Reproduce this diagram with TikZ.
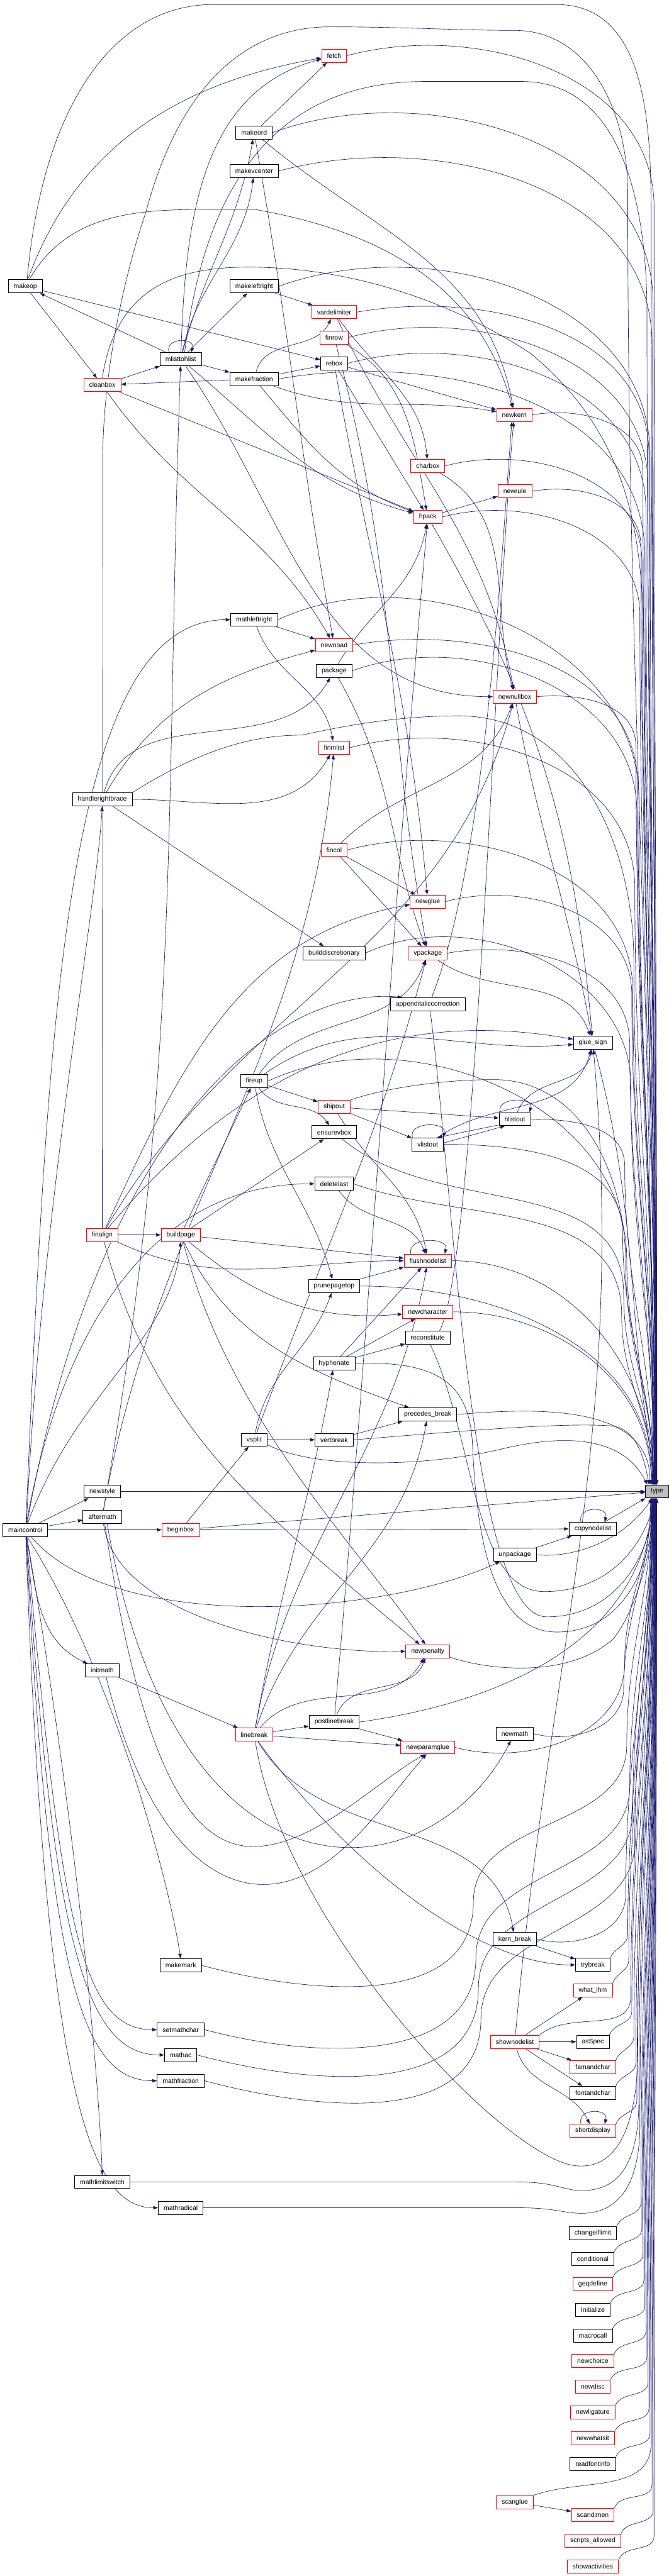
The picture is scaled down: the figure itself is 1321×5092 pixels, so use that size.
\documentclass[tikz,border=0pt]{standalone}
\usepackage{fontspec}
\setmainfont{Liberation Sans}
\usetikzlibrary{arrows.meta}
\definecolor{edgeblue}{RGB}{25,25,112}
\definecolor{typegray}{RGB}{191,191,191}
\pgfdeclarelayer{back}\pgfdeclarelayer{bg}
\pgfsetlayers{back,bg,main}
\newcommand\EA[5]{\draw[e] (#1) to[out=#5,in=90] (#2,#3) to[out=-90,in=90] (type.#4);}
\newcommand\EB[5]{\draw[e] (#1) to[out=#5,in=-90] (#2,#3) to[out=90,in=-90] (type.#4);}
\newcommand\EW[6]{\draw[e] (#1) to[out=-15,in=-90] (#2,#3) to[out=90,in=-90] (#4,#5) to[out=90,in=-90] (type.#6);}
\newcommand\loopit[4]{\draw[e] (#1.#2) to[out=105,in=75,looseness=#4] (#1.#3);}
\tikzset{
 nb/.style={draw=black, fill=white, line width=0.08pt, minimum height=2.08pt, inner xsep=0.853pt, inner ysep=0pt, font=\fontsize{1.04}{1.2}\selectfont},
 nr/.style={nb, draw=red},
 nt/.style={nb, fill=typegray},
 e/.style={draw=edgeblue, line width=0.064pt, -{Triangle[length=0.75pt,width=0.53pt]}},
}
\begin{document}
\begin{tikzpicture}[x=0.08pt,y=0.08pt]
\begin{pgfonlayer}{back}
\fill[white] (0,0) rectangle (1321,-5092);
\end{pgfonlayer}
\useasboundingbox (0,0) rectangle (1321,-5092);
% nodes
\node[nr] (fetch) at (660,-110) {fetch};
\node[nb] (makeord) at (502,-262) {makeord};
\node[nb] (makevcenter) at (502,-338) {makevcenter};
\node[nb] (makeop) at (50,-566) {makeop};
\node[nb] (makeleftright) at (502,-566) {makeleftright};
\node[nr] (vardelimiter) at (660,-617) {vardelimiter};
\node[nr] (finrow) at (660,-667) {finrow};
\node[nb] (mlisttohlist) at (357,-710) {mlisttohlist};
\node[nb] (rebox) at (660,-718) {rebox};
\node[nb] (makefraction) at (502,-749) {makefraction};
\node[nr] (cleanbox) at (202,-761) {cleanbox};
\node[nr] (newkern) at (1016,-820) {newkern};
\node[nr] (charbox) at (845,-921) {charbox};
\node[nr] (newrule) at (1017,-971) {newrule};
\node[nr] (hpack) at (845,-1022) {hpack};
\node[nb] (mathleftright) at (502,-1225) {mathleftright};
\node[nr] (newnoad) at (660,-1275) {newnoad};
\node[nb] (package) at (660,-1326) {package};
\node[nr] (newnullbox) at (1017,-1377) {newnullbox};
\node[nr] (finmlist) at (660,-1478) {finmlist};
\node[nb] (handlerightbrace) at (202,-1580) {handlerightbrace};
\node[nr] (fincol) at (660,-1680) {fincol};
\node[nr] (newglue) at (845,-1782) {newglue};
\node[nb] (builddiscretionary) at (660,-1884) {builddiscretionary};
\node[nr] (vpackage) at (845,-1884) {vpackage};
\node[nb] (appenditaliccorrection) at (845,-1985) {appenditaliccorrection};
\node[nb] (gluesign) at (1171,-2061) {glue\_sign};
\node[nb] (fireup) at (502,-2137) {fireup};
\node[nr] (shipout) at (660,-2188) {shipout};
\node[nb] (hlistout) at (1017,-2212) {hlistout};
\node[nb] (ensurevbox) at (660,-2238) {ensurevbox};
\node[nb] (vlistout) at (845,-2262) {vlistout};
\node[nb] (deletelast) at (660,-2340) {deletelast};
\node[nr] (finalign) at (202,-2441) {finalign};
\node[nr] (buildpage) at (357,-2441) {buildpage};
\node[nr] (flushnodelist) at (845,-2492) {flushnodelist};
\node[nb] (prunepagetop) at (660,-2542) {prunepagetop};
\node[nr] (newcharacter) at (845,-2593) {newcharacter};
\node[nb] (reconstitute) at (845,-2644) {reconstitute};
\node[nb] (hyphenate) at (660,-2695) {hyphenate};
\node[nb] (precedesbreak) at (845,-2796) {precedes\_break};
\node[nb] (vsplit) at (502,-2846) {vsplit};
\node[nb] (vertbreak) at (660,-2846) {vertbreak};
\node[nb] (newstyle) at (202,-2948) {newstyle};
\node[nt] (type) at (1298,-2948) {type};
\node[nb] (aftermath) at (202,-2998) {aftermath};
\node[nb] (maincontrol) at (50,-3024) {maincontrol};
\node[nr] (beginbox) at (357,-3024) {beginbox};
\node[nb] (copynodelist) at (1171,-3022) {copynodelist};
\node[nb] (unpackage) at (1017,-3073) {unpackage};
\node[nr] (newpenalty) at (845,-3264) {newpenalty};
\node[nb] (initmath) at (202,-3302) {initmath};
\node[nb] (postlinebreak) at (660,-3404) {postlinebreak};
\node[nr] (linebreak) at (502,-3429) {linebreak};
\node[nb] (newmath) at (1017,-3427) {newmath};
\node[nr] (newparamglue) at (845,-3454) {newparamglue};
\node[nb] (kernbreak) at (1017,-3833) {kern\_break};
\node[nb] (makemark) at (357,-3885) {makemark};
\node[nb] (trybreak) at (1171,-3884) {trybreak};
\node[nr] (whatlhm) at (1171,-3934) {what\_lhm};
\node[nb] (setmathchar) at (357,-4012) {setmathchar};
\node[nr] (shownodelist) at (1017,-4036) {shownodelist};
\node[nb] (asSpec) at (1171,-4036) {asSpec};
\node[nb] (mathac) at (357,-4062) {mathac};
\node[nr] (famandchar) at (1171,-4086) {famandchar};
\node[nb] (mathfraction) at (357,-4113) {mathfraction};
\node[nb] (fontandchar) at (1171,-4137) {fontandchar};
\node[nr] (shortdisplay) at (1171,-4212) {shortdisplay};
\node[nb] (mathlimitswitch) at (202,-4313) {mathlimitswitch};
\node[nb] (mathradical) at (357,-4364) {mathradical};
\node[nb] (changeiflimit) at (1171,-4414) {changeiflimit};
\node[nb] (conditional) at (1171,-4465) {conditional};
\node[nr] (geqdefine) at (1171,-4515) {geqdefine};
\node[nb] (Initialize) at (1171,-4566) {Initialize};
\node[nb] (macrocall) at (1171,-4617) {macrocall};
\node[nr] (newchoice) at (1171,-4667) {newchoice};
\node[nr] (newdisc) at (1171,-4718) {newdisc};
\node[nr] (newligature) at (1171,-4769) {newligature};
\node[nr] (newwhatsit) at (1171,-4820) {newwhatsit};
\node[nb] (readfontinfo) at (1171,-4870) {readfontinfo};
\node[nr] (scanglue) at (1017,-4946) {scanglue};
\node[nr] (scandimen) at (1171,-4971) {scandimen};
\node[nr] (scriptsallowed) at (1171,-5022) {scripts\_allowed};
\node[nr] (showactivities) at (1171,-5073) {showactivities};
\begin{pgfonlayer}{bg}
% ---------- edges between nodes ----------
\draw[e] (makeord) -- (fetch);
\draw[e] (makeop) to[out=70,in=190] (fetch);
\draw[e] (mlisttohlist) to[out=88,in=195] (fetch);
\draw[e] (mlisttohlist) to[out=75,in=-100] (makeord);
\draw[e] (mlisttohlist) to[out=78,in=-97] (makevcenter);
\draw[e] (mlisttohlist) -- (makeleftright);
\draw[e] (mlisttohlist) -- (makeop);
\draw[e] (mlisttohlist) -- (makefraction);
\loopit{mlisttohlist}{150}{33}{1.8}
\draw[e] (cleanbox) -- (mlisttohlist);
\draw[e] (makeop) -- (cleanbox);
\draw[e] (makefraction) -- (cleanbox);
\draw[e] (makeleftright) -- (vardelimiter);
\draw[e] (makefraction) to[out=75,in=-115] (vardelimiter);
\draw[e] (makeop) -- (rebox);
\draw[e] (makefraction) -- (rebox);
\draw[e] (rebox) -- (newkern);
\draw[e] (makefraction) to[out=-20,in=170] (newkern);
\draw[e] (makeord) to[out=-40,in=100] (newkern);
\draw[e] (makeop.60) to[out=60,in=180] (400,-414) -- (504,-414) to[out=-10,in=105] (newkern);
\draw[e] (vardelimiter) to[out=-55,in=95] (charbox);
\draw[e] (vardelimiter) to[out=-65,in=100] (newnullbox);
\draw[e] (charbox) to[out=-30,in=105] (newnullbox);
\draw[e] (hpack) -- (newrule);
\draw[e] (rebox) -- (hpack);
\draw[e] (cleanbox) -- (hpack);
\draw[e] (mlisttohlist) to[out=-40,in=165] (hpack);
\draw[e] (makefraction) to[out=-50,in=160] (hpack);
\draw[e] (finrow) to[out=-30,in=100] (hpack);
\draw[e] (package) to[out=60,in=-100] (hpack);
\draw[e] (postlinebreak) to[out=85,in=-95] (hpack);
\draw[e] (mathleftright) -- (newnoad);
\draw[e] (makeord) to[out=-80,in=100] (newnoad);
\draw[e] (cleanbox) to[out=-55,in=120] (newnoad);
\draw[e] (handlerightbrace) to[out=60,in=195] (newnoad);
\draw[e] (handlerightbrace) to[out=75,in=-120] (package);
\draw[e] (handlerightbrace) to[out=0,in=-120] (finmlist);
\draw[e] (handlerightbrace) -- (builddiscretionary);
\draw[e] (mathleftright) to[out=-70,in=100] (finmlist);
\draw[e] (aftermath) to[out=80,in=-95] (finmlist);
\draw[e] (mlisttohlist) to[out=-55,in=180] (newnullbox);
\draw[e] (fincol) to[out=45,in=-110] (newnullbox);
\draw[e] (finalign) to[out=60,in=-105] (newnullbox);
\draw[e] (fincol) -- (newglue);
\draw[e] (rebox) to[out=-80,in=95] (newglue);
\draw[e] (finalign) to[out=65,in=190] (newglue);
\draw[e] (fincol) -- (vpackage);
\draw[e] (finrow) to[out=-75,in=100] (vpackage);
\draw[e] (package) to[out=-60,in=110] (vpackage);
\draw[e] (fireup) to[out=55,in=-110] (vpackage);
\draw[e] (vsplit) to[out=70,in=-105] (vpackage);
\draw[e] (newnullbox) to[out=-80,in=100] (gluesign);
\draw[e] (hpack) to[out=-60,in=95] (gluesign);
\draw[e] (vpackage) to[out=-35,in=110] (gluesign);
\draw[e] (finalign) to[out=50,in=170] (gluesign);
\draw[e] (fireup) to[out=35,in=185] (gluesign);
\draw[e] (hlistout) to[out=70,in=-100] (gluesign);
\draw[e] (vlistout) to[out=35,in=-105] (gluesign);
\draw[e] (shownodelist) to[out=85,in=-85] (gluesign);
\draw[e] (fireup) -- (shipout);
\draw[e] (fireup) to[out=-55,in=125] (ensurevbox);
\draw[e] (fireup) to[out=-80,in=105] (prunepagetop);
\draw[e] (buildpage) -- (fireup);
\draw[e] (buildpage) -- (ensurevbox);
\draw[e] (buildpage) -- (flushnodelist);
\draw[e] (buildpage) to[out=-65,in=160] (precedesbreak);
\draw[e] (buildpage) to[out=-40,in=185] (newcharacter);
\draw[e] (finalign) -- (buildpage);
\draw[e] (finalign) to[out=-25,in=180] (flushnodelist);
\draw[e] (maincontrol) to[out=80,in=180] (deletelast);
\draw[e] (deletelast) to[out=-55,in=110] (flushnodelist);
\draw[e] (shipout) -- (hlistout);
\draw[e] (shipout) -- (vlistout);
\draw[e] (shipout) to[out=-60,in=100] (flushnodelist);
\draw[e] (hlistout.200) -- (vlistout.35);
\draw[e] (vlistout.5) -- (hlistout.215);
\loopit{hlistout}{155}{25}{1.4}
\loopit{vlistout}{156}{24}{1.4}
\loopit{flushnodelist}{158}{22}{1.35}
\draw[e] (prunepagetop) -- (flushnodelist);
\draw[e] (hyphenate) -- (flushnodelist);
\draw[e] (linebreak) to[out=80,in=-100] (flushnodelist);
\draw[e] (hyphenate) -- (reconstitute);
\draw[e] (hyphenate) -- (newcharacter);
\draw[e] (linebreak) to[out=80,in=-100] (hyphenate);
\draw[e] (vsplit) -- (vertbreak);
\draw[e] (vsplit) to[out=80,in=-110] (prunepagetop);
\draw[e] (vertbreak) -- (precedesbreak);
\draw[e] (linebreak) to[out=72,in=-100] (precedesbreak);
\draw[e] (beginbox) -- (vsplit);
\draw[e] (beginbox) -- (copynodelist);
\draw[e] (unpackage) -- (copynodelist);
\loopit{copynodelist}{150}{30}{1.8}
\draw[e] (maincontrol) to[out=-50,in=205,looseness=0.7] (unpackage);
\draw[e] (maincontrol) -- (newstyle);
\draw[e] (maincontrol) -- (aftermath);
\draw[e] (maincontrol) -- (beginbox);
\draw[e] (maincontrol) to[out=-80,in=155] (initmath);
\draw[e] (maincontrol.80) .. controls (80,-2400) and (190,-1800) .. (handlerightbrace.south);
\draw[e] (maincontrol.85) .. controls (95,-2000) and (130,-1225) .. (mathleftright.west);
\draw[e] (maincontrol.75) .. controls (200,-2200) and (560,-1950) .. (appenditaliccorrection.165);
\draw[e] (maincontrol.70) .. controls (150,-2750) and (340,-2650) .. (buildpage.south);
\draw[e] (maincontrol.-75) .. controls (220,-3300) and (330,-3700) .. (makemark.north);
\draw[e] (maincontrol.-80) .. controls (120,-3800) and (160,-4012) .. (setmathchar.west);
\draw[e] (maincontrol.-82) .. controls (105,-3850) and (170,-4062) .. (mathac.west);
\draw[e] (maincontrol.-84) .. controls (95,-3900) and (160,-4113) .. (mathfraction.west);
\draw[e] (maincontrol.-86) .. controls (90,-4150) and (180,-4364) .. (mathradical.west);
\draw[e] (maincontrol.-78) .. controls (150,-3600) and (195,-4100) .. (mathlimitswitch.north);
\draw[e] (aftermath.-80) .. controls (230,-3200) and (600,-3270) .. (newpenalty.west);
\draw[e] (finalign) to[out=-75,in=140] (newpenalty);
\draw[e] (buildpage.-70) .. controls (450,-2800) and (700,-3050) .. (newpenalty.110);
\draw[e] (linebreak) to[out=50,in=-120] (newpenalty);
\draw[e] (postlinebreak) to[out=70,in=-110] (newpenalty);
\draw[e] (aftermath.-70) .. controls (280,-3500) and (380,-3650) .. (500,-3650) .. controls (620,-3650) and (745,-3520) .. (newparamglue.-110);
\draw[e] (initmath.-60) .. controls (280,-3600) and (400,-3725) .. (520,-3725) .. controls (660,-3725) and (760,-3560) .. (newparamglue.-100);
\draw[e] (linebreak) -- (newparamglue);
\draw[e] (postlinebreak) -- (newparamglue);
\draw[e] (linebreak) -- (postlinebreak);
\draw[e] (initmath) -- (linebreak);
\draw[e] (aftermath.-55) .. controls (350,-3800) and (850,-3750) .. (newmath.-120);
\draw[e] (aftermath) to[out=80,in=-92] (mlisttohlist);
\draw[e] (linebreak.-60) .. controls (700,-3700) and (950,-3884) .. (trybreak.west);
\draw[e] (linebreak) to[out=-60,in=100] (kernbreak);
\draw[e] (kernbreak) -- (trybreak);
\draw[e] (shownodelist) -- (whatlhm);
\draw[e] (shownodelist) -- (asSpec);
\draw[e] (shownodelist) -- (famandchar);
\draw[e] (shownodelist) -- (fontandchar);
\draw[e] (shownodelist) to[out=-75,in=115] (shortdisplay);
\loopit{shortdisplay}{150}{30}{1.8}
\draw[e] (scanglue) -- (scandimen);
\draw[e] (reconstitute.30) .. controls (940,-2500) and (980,-1200) .. (newkern.-95);
\draw[e] (appenditaliccorrection.60) .. controls (960,-1700) and (990,-1100) .. (newkern.-110);
% ---------- edges to type from above ----------
\draw[e] (makeop.75) .. controls (85,-200) and (230,-9) .. (420,-9) -- (1100,-9) to[out=0,in=90] (1286,-420) to[out=-90,in=90] (type.95);
\draw[e] (finalign.north) -- (203,-900) .. controls (205,-700) and (260,-500) .. (288,-420) .. controls (360,-150) and (500,-53) .. (652,-53) .. controls (800,-53) and (900,-60) .. (1016,-60) to[out=0,in=90] (1240,-380) to[out=-90,in=90] (type.123);
\draw[e] (mlisttohlist.60) .. controls (400,-400) and (520,-161) .. (840,-161) -- (1030,-161) to[out=0,in=90] (1278,-620) to[out=-90,in=90] (type.98);
\draw[e] (cleanbox.north) .. controls (230,-560) and (360,-528) .. (491,-528) .. controls (700,-528) and (900,-600) .. (1050,-700) to[out=-40,in=90] (1272,-1300) to[out=-90,in=90] (type.100);
\draw[e] (handlerightbrace.north east) .. controls (400,-1480) and (500,-1453) .. (597,-1453) .. controls (700,-1430) and (800,-1415) .. (906,-1415) to[out=0,in=90] (1252,-1900) to[out=-90,in=90] (type.110);
\draw[e] (shipout.north east) .. controls (760,-2150) and (880,-2134) .. (975,-2134) to[out=0,in=90] (1236,-2500) to[out=-90,in=90] (type.117);
\draw[e] (ensurevbox.-40) to[out=-40,in=90] (1232,-2560) to[out=-90,in=90] (type.119);
\draw[e] (gluesign) to[out=-75,in=100] (type);
\EA{fetch.east}{1292}{-410}{92}{15}
\EA{makeord.east}{1290}{-600}{93}{20}
\EA{makevcenter.east}{1288}{-680}{94}{15}
\EA{makeleftright.east}{1284}{-900}{96}{20}
\EA{vardelimiter.east}{1282}{-900}{97}{10}
\EA{finrow.east}{1280}{-960}{98}{15}
\EA{rebox.east}{1276}{-1010}{99}{15}
\EA{makefraction.east}{1274}{-1100}{100}{10}
\EA{newkern.east}{1270}{-930}{101}{10}
\EA{charbox.east}{1268}{-1110}{102}{15}
\EA{newrule.east}{1266}{-1080}{103}{10}
\EA{hpack.east}{1264}{-1215}{104}{15}
\EA{mathleftright.east}{1262}{-1580}{105}{25}
\EA{newnoad.east}{1260}{-1555}{106}{10}
\EA{package.east}{1258}{-1605}{107}{20}
\EA{newnullbox.east}{1256}{-1475}{108}{5}
\EA{finmlist.east}{1254}{-1755}{109}{15}
\EA{fincol.east}{1250}{-1960}{111}{15}
\EA{newglue.east}{1248}{-1965}{112}{15}
\EA{builddiscretionary.east}{1246}{-2145}{113}{25}
\EA{vpackage.east}{1244}{-2065}{114}{10}
\EA{fireup.east}{1238}{-2490}{116}{25}
\EA{hlistout.east}{1234}{-2305}{118}{0}
\EA{vlistout.east}{1230}{-2440}{120}{0}
\EA{deletelast.east}{1228}{-2600}{121}{-20}
\draw[e] (flushnodelist.east) to[out=0,in=90] (type.125);
\draw[e] (prunepagetop.east) to[out=0,in=90] (type.128);
\draw[e] (newcharacter.east) to[out=0,in=90] (type.131);
\draw[e] (precedesbreak.east) to[out=5,in=90] (type.136);
\draw[e] (vertbreak.east) .. controls (900,-2830) and (1100,-2812) .. (1200,-2818) to[out=0,in=100] (type.140);
\draw[e] (vsplit.-20) .. controls (620,-2905) and (850,-2900) .. (1000,-2862) .. controls (1120,-2835) and (1230,-2840) .. (type.145);
\draw[e] (newstyle) -- (type);
\draw[e] (beginbox) -- (type);
\draw[e] (copynodelist) -- (type);
% ---------- edges to type from below ----------
\draw[e] (appenditaliccorrection.-70) .. controls (900,-2400) and (930,-3196) .. (1080,-3196) .. controls (1200,-3196) and (1280,-3100) .. (type.250);
\draw[e] (reconstitute.-70) .. controls (940,-2850) and (935,-3146) .. (1075,-3146) .. controls (1200,-3146) and (1270,-3060) .. (type.255);
\draw[e] (hyphenate.east) .. controls (860,-2690) and (925,-2730) .. (933,-2850) .. controls (940,-3000) and (960,-3226) .. (1100,-3226) .. controls (1230,-3226) and (1288,-3100) .. (type.245);
\draw[e] (unpackage.east) .. controls (1110,-3080) and (1220,-3060) .. (type.235);
\draw[e] (newpenalty.-15) .. controls (960,-3300) and (1120,-3320) .. (1211,-3240) .. controls (1260,-3180) and (1290,-3050) .. (type.262);
\draw[e] (postlinebreak.east) to[out=8,in=-95] (type.240);
\draw[e] (linebreak.-80) .. controls (560,-3800) and (980,-4250) .. (1130,-4280) .. controls (1220,-4295) and (1260,-4200) .. (1260,-4050) to[out=90,in=-90] (type.245);
\draw[e] (mathlimitswitch.east) -- (1020,-4313) .. controls (1100,-4313) and (1110,-4330) .. (1150,-4330) .. controls (1220,-4330) and (1262,-4280) .. (1262,-4150) to[out=90,in=-90] (type.247);
\draw[e] (mathradical.east) -- (1020,-4364) .. controls (1100,-4364) and (1110,-4375) .. (1150,-4375) .. controls (1220,-4375) and (1264,-4320) .. (1264,-4200) to[out=90,in=-90] (type.248);
\EB{showactivities.north east}{1292}{-5013}{267}{70}
\EB{scriptsallowed.north east}{1290}{-4962}{266}{70}
\EB{scandimen.north east}{1288}{-4911}{264}{70}
\EB{scanglue.20}{1286}{-4830}{263}{20}
\EB{readfontinfo.north east}{1284}{-4810}{262}{70}
\EB{newwhatsit.north east}{1282}{-4760}{260}{70}
\EB{newligature.north east}{1280}{-4709}{259}{70}
\EB{newdisc.north east}{1278}{-4658}{258}{70}
\EB{newchoice.north east}{1276}{-4607}{256}{70}
\EB{macrocall.north east}{1274}{-4557}{255}{70}
\EB{Initialize.north east}{1272}{-4506}{254}{70}
\EB{geqdefine.north east}{1270}{-4455}{252}{70}
\EB{conditional.north east}{1268}{-4405}{251}{70}
\EB{changeiflimit.north east}{1266}{-4354}{249}{70}
\EB{shortdisplay.north east}{1258}{-4152}{244}{70}
\EB{fontandchar.north east}{1256}{-4077}{243}{70}
\EB{famandchar.north east}{1252}{-4026}{240}{70}
\EB{asSpec.north east}{1248}{-3976}{237}{70}
\EB{shownodelist.north east}{1246}{-3946}{236}{40}
\EB{whatlhm.north east}{1242}{-3874}{233}{70}
\EB{trybreak.north east}{1240}{-3824}{232}{70}
\EB{kernbreak.east}{1236}{-3745}{229}{-15}
\EB{newparamglue.east}{1234}{-3286}{228}{-15}
\EB{newmath.east}{1232}{-3338}{226}{-15}
\EW{mathfraction.east}{950}{-3990}{1254}{-3640}{241}
\EW{mathac.east}{945}{-3930}{1250}{-3580}{239}
\EW{setmathchar.east}{940}{-3870}{1244}{-3530}{235}
\EW{makemark.east}{935}{-3760}{1238}{-3450}{230}
\end{pgfonlayer}
\end{tikzpicture}
\end{document}
